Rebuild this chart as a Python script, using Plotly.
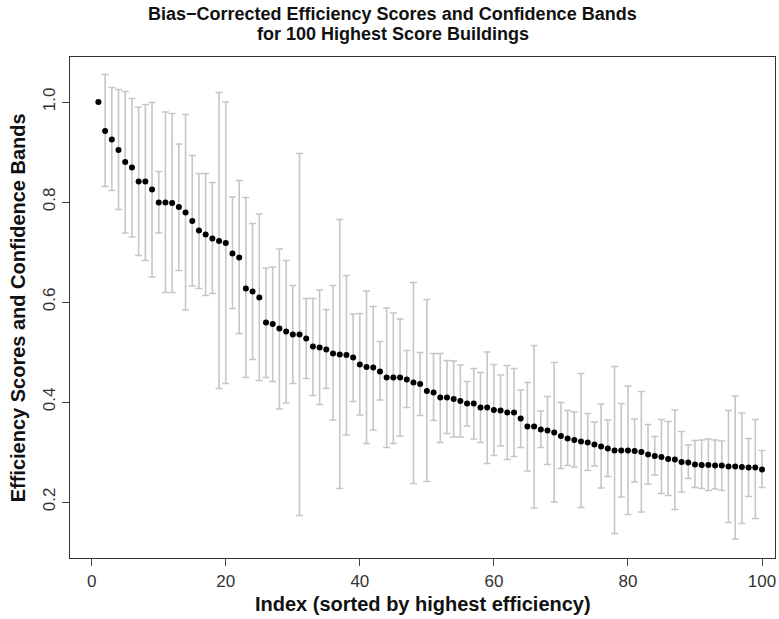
import plotly.graph_objects as go

# Bias-corrected efficiency scores (sorted) with lower/upper confidence limits
index = list(range(1, 101))
score = [1.000, 0.942, 0.925, 0.904, 0.880, 0.869, 0.841, 0.841, 0.825, 0.799,
         0.799, 0.798, 0.790, 0.779, 0.762, 0.743, 0.735, 0.727, 0.722, 0.718,
         0.697, 0.689, 0.627, 0.621, 0.609, 0.559, 0.556, 0.547, 0.541, 0.535,
         0.535, 0.527, 0.511, 0.509, 0.505, 0.497, 0.495, 0.494, 0.489, 0.475,
         0.470, 0.469, 0.461, 0.449, 0.449, 0.449, 0.445, 0.439, 0.436, 0.422,
         0.419, 0.409, 0.409, 0.406, 0.402, 0.397, 0.397, 0.389, 0.389, 0.384,
         0.383, 0.379, 0.379, 0.367, 0.351, 0.351, 0.345, 0.343, 0.339, 0.332,
         0.327, 0.324, 0.321, 0.319, 0.315, 0.311, 0.307, 0.303, 0.303, 0.303,
         0.302, 0.300, 0.295, 0.292, 0.290, 0.286, 0.285, 0.280, 0.279, 0.275,
         0.274, 0.274, 0.273, 0.273, 0.271, 0.271, 0.270, 0.269, 0.269, 0.265]
upper = [None, 1.055, 1.029, 1.025, 1.021, 1.007, 0.990, 0.995, 0.999, 0.861,
         0.980, 0.977, 0.916, 0.975, 0.893, 0.857, 0.857, 0.839, 1.019, 1.000,
         0.810, 0.843, 0.809, 0.757, 0.776, 0.668, 0.670, 0.706, 0.683, 0.633,
         0.897, 0.607, 0.607, 0.624, 0.585, 0.633, 0.765, 0.653, 0.576, 0.577,
         0.622, 0.591, 0.521, 0.588, 0.578, 0.566, 0.503, 0.639, 0.499, 0.605,
         0.497, 0.497, 0.483, 0.482, 0.474, 0.441, 0.467, 0.459, 0.500, 0.475,
         0.454, 0.473, 0.467, 0.424, 0.439, 0.513, 0.382, 0.411, 0.479, 0.399,
         0.383, 0.380, 0.457, 0.377, 0.360, 0.396, 0.364, 0.471, 0.397, 0.432,
         0.366, 0.421, 0.355, 0.331, 0.365, 0.361, 0.384, 0.341, 0.314, 0.323,
         0.324, 0.326, 0.324, 0.322, 0.383, 0.412, 0.378, 0.327, 0.365, 0.303]
lower = [None, 0.831, 0.823, 0.785, 0.738, 0.730, 0.693, 0.683, 0.650, 0.738,
         0.619, 0.619, 0.663, 0.584, 0.632, 0.627, 0.613, 0.617, 0.427, 0.437,
         0.587, 0.537, 0.449, 0.485, 0.443, 0.449, 0.441, 0.386, 0.398, 0.437,
         0.173, 0.447, 0.413, 0.395, 0.427, 0.364, 0.227, 0.334, 0.401, 0.374,
         0.317, 0.344, 0.404, 0.309, 0.317, 0.332, 0.389, 0.237, 0.373, 0.241,
         0.363, 0.319, 0.337, 0.330, 0.330, 0.352, 0.326, 0.319, 0.277, 0.293,
         0.312, 0.285, 0.291, 0.309, 0.262, 0.188, 0.309, 0.275, 0.200, 0.267,
         0.273, 0.270, 0.189, 0.263, 0.272, 0.228, 0.251, 0.137, 0.210, 0.175,
         0.240, 0.180, 0.236, 0.254, 0.217, 0.213, 0.185, 0.220, 0.247, 0.229,
         0.227, 0.223, 0.226, 0.223, 0.159, 0.126, 0.157, 0.211, 0.167, 0.229]

x_ticks = [0, 20, 40, 60, 80, 100]
y_ticks = [0.2, 0.4, 0.6, 0.8, 1.0]

err_plus = [None if u is None else u - s for u, s in zip(upper, score)]
err_minus = [None if l is None else s - l for l, s in zip(lower, score)]

FONT = "Liberation Sans, Arial, Helvetica, sans-serif"

fig = go.Figure()
fig.add_trace(go.Scatter(
    x=index, y=score, mode="markers",
    marker=dict(color="black", size=6),
    error_y=dict(type="data", symmetric=False, array=err_plus,
                 arrayminus=err_minus, color="#c6c6c6",
                 thickness=1.6, width=3.5),
    showlegend=False,
))

axis_common = dict(
    showgrid=False, zeroline=False, showline=True, mirror=True,
    linecolor="#333333", linewidth=1.2, ticks="outside", ticklen=7,
    tickcolor="#444444", tickwidth=1,
    tickfont=dict(family=FONT, size=17, color="#333333"),
)

fig.update_layout(
    width=779, height=619,
    margin=dict(l=70, r=4, t=57, b=61),
    plot_bgcolor="white", paper_bgcolor="white",
    xaxis=dict(range=[-3.24, 101.94], tickvals=x_ticks, **axis_common),
    yaxis=dict(range=[0.088, 1.09], tickvals=y_ticks,
               ticktext=[f"{v:.1f}" for v in y_ticks],
               tickangle=-90, **axis_common),
    annotations=[
        dict(text="<b>Bias\u2212Corrected Efficiency Scores and Confidence Bands</b>",
             xref="paper", yref="paper", x=0.458, y=1.0858,
             xanchor="center", yanchor="middle", showarrow=False,
             font=dict(family=FONT, size=18, color="#111111")),
        dict(text="<b>for 100 Highest Score Buildings</b>",
             xref="paper", yref="paper", x=0.458, y=1.0459,
             xanchor="center", yanchor="middle", showarrow=False,
             font=dict(family=FONT, size=18, color="#111111")),
        dict(text="<b>Index (sorted by highest efficiency)</b>",
             xref="paper", yref="paper", x=0.5, y=-0.092,
             xanchor="center", yanchor="middle", showarrow=False,
             font=dict(family=FONT, size=20, color="#111111")),
        dict(text="<b>Efficiency Scores and Confidence Bands</b>",
             xref="paper", yref="paper", x=-0.074, y=0.5,
             xanchor="center", yanchor="middle", showarrow=False,
             textangle=-90,
             font=dict(family=FONT, size=20, color="#111111")),
    ],
)

fig.write_html("out.html")
